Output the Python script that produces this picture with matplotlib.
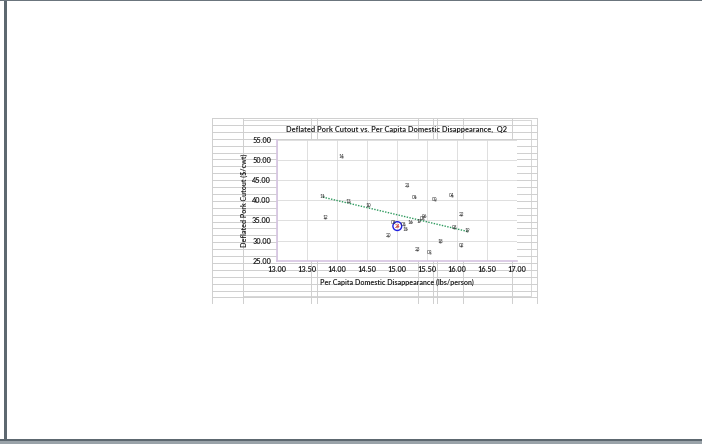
import matplotlib
matplotlib.use("Agg")
import matplotlib.pyplot as plt
from matplotlib.patches import Rectangle
import numpy as np

plt.rcParams['font.family'] = ['Lato', 'DejaVu Sans']

# ------------------------------------ DATA ------------------------------------#
years = ['00', '01', '02', '03', '04', '05', '06', '07', '08', '09', '10', '11', '12',
         '13', '14', '15', '16', '17', '18', '19', '20', '21', '22', '23', '24']
disappearance = [15.63, 15.30, 16.08, 15.96, 15.92, 14.95, 15.46, 15.44, 15.12, 15.55, 14.53, 13.77, 13.81,
                 14.20, 14.08, 15.15, 15.23, 15.37, 15.72, 16.18, 14.86, 15.18, 16.08, 15.34, 15.01]
cutout = [40.1, 40.8, 28.7, 33.2, 41.2, 34.5, 36.1, 35.4, 33.9, 27.0, 38.7, 41.0, 35.7,
          39.7, 50.8, 32.85, 34.6, 34.85, 29.7, 32.4, 31.2, 43.6, 36.4, 27.7, 33.6]
highlight = '24'
x_ticks = [13.0, 13.5, 14.0, 14.5, 15.0, 15.5, 16.0, 16.5, 17.0]
y_ticks = [25.0, 30.0, 35.0, 40.0, 45.0, 50.0, 55.0]

W, H = 702, 444
fig = plt.figure(figsize=(W / 100, H / 100), dpi=100)

# --------------------------- page + spreadsheet grid ---------------------------#
bg = fig.add_axes([0, 0, 1, 1])
bg.set_xlim(0, W)
bg.set_ylim(H, 0)
bg.axis('off')

# page frame
bg.add_patch(Rectangle((3.5, 0), 3, H, color='#5d6870', lw=0))
bg.add_patch(Rectangle((0, 0), W, 1.5, color='#6b757d', lw=0))
bg.add_patch(Rectangle((0, 439), W, 2.2, color='#5d6870', lw=0))
bg.add_patch(Rectangle((0, 441.2), W, 2.8, color='#9aa3a9', lw=0))

# excel cells behind the chart
gx0, gx1, gy0, gy1 = 212, 537, 118, 303
grid_c = '#cfcfcf'
for yy in np.arange(gy0, gy1 + 1, 6.9):
    bg.plot([gx0, gx1], [yy, yy], color=grid_c, lw=0.7)
for xx in [gx0, 243, 310.5, 317, 418, 433, 436.5, 462.5, 511.5, gx1]:
    bg.plot([xx, xx], [gy0, gy1], color=grid_c, lw=0.7)

# chart object
bg.add_patch(Rectangle((242.5, 120), 288, 175.5, facecolor='white', edgecolor='#d0d0d0', lw=0.6))

# ---------------------------------- CHART -------------------------------------#
ax = fig.add_axes([276.7 / W, 1 - 260.7 / H, 240 / W, 120.7 / H])
ax.set_xlim(13, 17)
ax.set_ylim(25, 55)
ax.set_xticks(x_ticks)
ax.set_yticks(y_ticks)
ax.set_xticklabels([f'{v:.2f}' for v in x_ticks])
ax.set_yticklabels([f'{v:.2f}' for v in y_ticks])
ax.tick_params(length=0, labelsize=5.3, pad=4, labelcolor='#222222')
for lab in ax.get_xticklabels() + ax.get_yticklabels():
    lab.set_fontweight('bold')
ax.grid(True, color='#d9d9d9', lw=0.6)
ax.set_axisbelow(True)
for s in ['top', 'right']:
    ax.spines[s].set_visible(False)
for s in ['left', 'bottom']:
    ax.spines[s].set_color('#d6c4e2')
    ax.spines[s].set_linewidth(1.2)

ax.set_title('Deflated Pork Cutout vs. Per Capita Domestic Disappearance,  Q2',
             fontsize=5.4, fontweight='bold', pad=6, color='#222222')
ax.set_xlabel('Per Capita Domestic Disappearance (lbs/person)', fontsize=5.1, fontweight='bold',
              labelpad=4, color='#222222')
ax.set_ylabel('Deflated Pork Cutout ($/cwt)', fontsize=5.1, fontweight='bold', labelpad=3, color='#222222')

# points are label-only; trend line from linear fit
xs = np.array(disappearance)
ys = np.array(cutout)
ax.scatter(xs, ys, s=0.5, color='#999999', zorder=2)
k, b = np.polyfit(xs, ys, 1)
tx = np.array([xs.min(), xs.max()])
ax.plot(tx, k * tx + b, color='#2e9a5e', lw=1.0, ls=(0, (1, 1)), zorder=3)

for yr, xv, yv in zip(years, disappearance, cutout):
    if yr == highlight:
        ax.scatter([xv], [yv], s=40, facecolors='none', edgecolors='#2020e0', lw=1.0, zorder=4)
        ax.text(xv, yv, yr, fontsize=3.4, color='#e02020', ha='center', va='center', zorder=5)
    else:
        ax.text(xv, yv, yr, fontsize=3.4, color='#333333', ha='center', va='center', zorder=5)

fig.savefig('out.png', dpi=100)
